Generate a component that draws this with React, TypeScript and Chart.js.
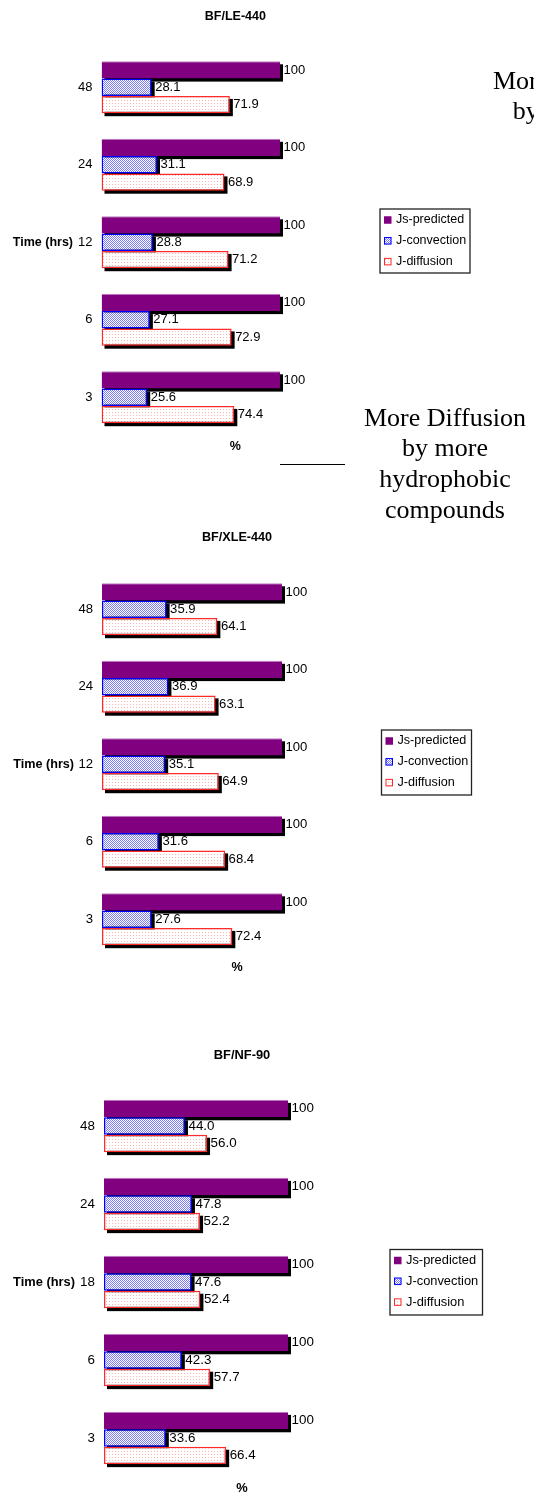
import React, { useEffect, useRef } from 'react';
import { Chart, registerables } from 'chart.js';

Chart.register(...registerables);

const FONT = '"Liberation Sans", Arial, Helvetica, sans-serif';
const SERIF = '"Liberation Serif", "Times New Roman", Times, serif';

const seriesNames = ['Js-predicted', 'J-convection', 'J-diffusion'];
const xAxisMax = 150;
const yAxisTitle = 'Time (hrs)';
const xAxisTitle = '%';

// Chart 1: BF/LE-440
const le440Title = 'BF/LE-440';
const le440Times = ['48', '24', '12', '6', '3'];
const le440Predicted = [100, 100, 100, 100, 100];
const le440Convection = [28.1, 31.1, 28.8, 27.1, 25.6];
const le440Diffusion = [71.9, 68.9, 71.2, 72.9, 74.4];

// Chart 2: BF/XLE-440
const xle440Title = 'BF/XLE-440';
const xle440Times = ['48', '24', '12', '6', '3'];
const xle440Predicted = [100, 100, 100, 100, 100];
const xle440Convection = [35.9, 36.9, 35.1, 31.6, 27.6];
const xle440Diffusion = [64.1, 63.1, 64.9, 68.4, 72.4];

// Chart 3: BF/NF-90
const nf90Title = 'BF/NF-90';
const nf90Times = ['48', '24', '18', '6', '3'];
const nf90Predicted = [100, 100, 100, 100, 100];
const nf90Convection = [44.0, 47.8, 47.6, 42.3, 33.6];
const nf90Diffusion = [56.0, 52.2, 52.4, 57.7, 66.4];

const noteLines = ['More Diffusion', 'by more', 'hydrophobic', 'compounds'];
const clippedNoteLines = ['More', 'by'];

function formatValue(v: number) {
  return v >= 100 ? String(v) : v.toFixed(1);
}

function makePattern(fg: string, bg: string, size: number, dots: [number, number][]) {
  const c = document.createElement('canvas');
  c.width = size;
  c.height = size;
  const g = c.getContext('2d')!;
  g.fillStyle = bg;
  g.fillRect(0, 0, size, size);
  g.fillStyle = fg;
  dots.forEach(([x, y]) => g.fillRect(x, y, 1, 1));
  return g.createPattern(c, 'repeat')!;
}

const shadowPlugin = {
  id: 'barShadow',
  beforeDatasetsDraw(chart: any, _args: any, o: any) {
    const ctx = chart.ctx;
    ctx.save();
    ctx.fillStyle = o.color;
    chart.data.datasets.forEach((_ds: any, i: number) => {
      const meta = chart.getDatasetMeta(i);
      meta.data.forEach((bar: any) => {
        const { x, y, base, height } = bar.getProps(['x', 'y', 'base', 'height'], true);
        const left = Math.min(x, base);
        const w = Math.abs(x - base);
        ctx.fillRect(left + o.dx, y - height / 2 + o.dy, w, height);
      });
    });
    ctx.restore();
  },
};

const valueLabelPlugin = {
  id: 'valueLabels',
  afterDatasetsDraw(chart: any, _args: any, o: any) {
    const ctx = chart.ctx;
    ctx.save();
    ctx.font = `${o.fontSize}px ${FONT}`;
    ctx.fillStyle = '#000';
    ctx.textBaseline = 'middle';
    ctx.textAlign = 'left';
    chart.data.datasets.forEach((ds: any, i: number) => {
      const meta = chart.getDatasetMeta(i);
      meta.data.forEach((bar: any, j: number) => {
        ctx.fillText(formatValue(ds.data[j]), bar.x + o.gap, bar.y);
      });
    });
    ctx.restore();
  },
};

const sideTitlePlugin = {
  id: 'sideTitle',
  afterDraw(chart: any, _args: any, o: any) {
    const ctx = chart.ctx;
    const yScale = chart.scales.y;
    const mid = Math.floor(chart.data.labels.length / 2);
    ctx.save();
    ctx.font = `bold ${o.fontSize}px ${FONT}`;
    ctx.fillStyle = '#000';
    ctx.textAlign = 'right';
    ctx.textBaseline = 'middle';
    ctx.fillText(o.text, o.right, yScale.getPixelForValue(mid));
    ctx.restore();
  },
};

const boxLegendPlugin = {
  id: 'boxLegend',
  afterDraw(chart: any, _args: any, o: any) {
    const ctx = chart.ctx;
    ctx.save();
    ctx.fillStyle = '#fff';
    ctx.fillRect(o.left, o.top, o.width, o.height);
    ctx.strokeStyle = '#222';
    ctx.lineWidth = 1.3;
    ctx.strokeRect(o.left, o.top, o.width, o.height);
    ctx.font = `${o.fontSize}px ${FONT}`;
    ctx.textBaseline = 'middle';
    ctx.textAlign = 'left';
    chart.data.datasets.forEach((ds: any, i: number) => {
      const cy = o.top + o.firstRow + i * o.rowGap;
      const m = o.marker;
      const mx = o.left + o.markerX;
      ctx.fillStyle = ds.backgroundColor;
      ctx.fillRect(mx, cy - m / 2, m, m);
      if (typeof ds.borderWidth === 'number') {
        ctx.strokeStyle = ds.borderColor;
        ctx.lineWidth = 1;
        ctx.strokeRect(mx + 0.5, cy - m / 2 + 0.5, m - 1, m - 1);
      }
      ctx.fillStyle = '#000';
      ctx.fillText(ds.label, o.left + o.textX, cy);
    });
    ctx.restore();
  },
};

type PanelCfg = {
  title: string;
  times: string[];
  predicted: number[];
  convection: number[];
  diffusion: number[];
  canvasTop: number;
  canvasHeight: number;
  areaLeft: number;
  areaRight: number;
  areaTop: number;
  areaBottom: number;
  titleY: number;
  pctY: number;
  timeRight: number;
  legendLeft: number;
  legendTop: number;
  legendWidth: number;
  legendHeight: number;
  fs: number;
};

const panels: PanelCfg[] = [
  {
    title: le440Title, times: le440Times, predicted: le440Predicted, convection: le440Convection, diffusion: le440Diffusion,
    canvasTop: 0, canvasHeight: 470, areaLeft: 101.5, areaRight: 369.25, areaTop: 48.5, areaBottom: 436,
    titleY: 17, pctY: 447, timeRight: 73, legendLeft: 380, legendTop: 209, legendWidth: 90, legendHeight: 64, fs: 1,
  },
  {
    title: xle440Title, times: xle440Times, predicted: xle440Predicted, convection: xle440Convection, diffusion: xle440Diffusion,
    canvasTop: 520, canvasHeight: 470, areaLeft: 102, areaRight: 372, areaTop: 570.5, areaBottom: 958,
    titleY: 538, pctY: 968, timeRight: 74, legendLeft: 381.5, legendTop: 730, legendWidth: 90, legendHeight: 65, fs: 1.01,
  },
  {
    title: nf90Title, times: nf90Times, predicted: nf90Predicted, convection: nf90Convection, diffusion: nf90Diffusion,
    canvasTop: 1030, canvasHeight: 467, areaLeft: 104, areaRight: 380, areaTop: 1087, areaBottom: 1477,
    titleY: 1055, pctY: 1488, timeRight: 75, legendLeft: 390, legendTop: 1249.5, legendWidth: 92.5, legendHeight: 65.5, fs: 1.03,
  },
];

function BarPanel({ cfg }: { cfg: PanelCfg }) {
  const ref = useRef<HTMLCanvasElement>(null);
  useEffect(() => {
    const blue = makePattern('#7a7aff', '#ffffff', 2, [[0, 0], [1, 1]]);
    const red = makePattern('#ffb4b4', '#ffffff', 3, [[1, 1]]);
    const top = cfg.canvasTop;
    const titleSize = 12.5 * cfg.fs;
    const titleLh = titleSize * 1.2;
    const pctLh = titleSize * 1.2;
    const pctPadTop = cfg.pctY - cfg.areaBottom - pctLh / 2;
    const bottomPad = cfg.canvasHeight - (cfg.areaBottom - top) - pctLh - pctPadTop;
    const chart = new Chart(ref.current!, {
      type: 'bar',
      data: {
        labels: cfg.times,
        datasets: [
          {
            label: seriesNames[0], data: cfg.predicted, backgroundColor: '#800080',
            borderColor: '#c080c0', borderWidth: { top: 1, left: 0, right: 0, bottom: 0 } as any, borderSkipped: false,
          },
          {
            label: seriesNames[1], data: cfg.convection, backgroundColor: blue as any,
            borderColor: '#0000ff', borderWidth: 1.5, borderSkipped: false,
          },
          {
            label: seriesNames[2], data: cfg.diffusion, backgroundColor: red as any,
            borderColor: '#ff2a2a', borderWidth: 1.5, borderSkipped: false,
          },
        ],
      },
      options: {
        indexAxis: 'y',
        animation: false,
        responsive: false,
        maintainAspectRatio: false,
        events: [],
        datasets: { bar: { categoryPercentage: 0.67, barPercentage: 1 } },
        layout: { padding: { left: 0, top: 0, right: 534 - cfg.areaRight, bottom: bottomPad } },
        scales: {
          x: {
            type: 'linear', min: 0, max: xAxisMax,
            grid: { display: false, drawTicks: false },
            border: { display: false },
            ticks: { display: false },
            title: {
              display: true, text: xAxisTitle, color: '#000',
              font: { family: FONT, size: titleSize, weight: 'bold' },
              padding: { top: pctPadTop, bottom: 0 },
            },
          },
          y: {
            type: 'category',
            grid: { display: false, drawTicks: false },
            border: { display: false },
            ticks: { color: '#000', padding: 9, font: { family: FONT, size: 13 * cfg.fs } },
            afterFit: (scale: any) => { scale.width = cfg.areaLeft; },
          },
        },
        plugins: {
          legend: { display: false },
          tooltip: { enabled: false },
          title: {
            display: true, text: cfg.title, color: '#000', fullSize: false,
            font: { family: FONT, size: titleSize, weight: 'bold' },
            padding: { top: cfg.titleY - top - titleLh / 2, bottom: cfg.areaTop - cfg.titleY - titleLh / 2 },
          },
          barShadow: { color: '#000', dx: 3, dy: 3 },
          valueLabels: { fontSize: 13 * cfg.fs, gap: 3.5 },
          sideTitle: { text: yAxisTitle, fontSize: 12.5 * cfg.fs, right: cfg.timeRight },
          boxLegend: {
            left: cfg.legendLeft, top: cfg.legendTop - top, width: cfg.legendWidth, height: cfg.legendHeight,
            firstRow: 11, rowGap: 20.8, marker: 7.5, markerX: 4, textX: 16, fontSize: 12.5 * cfg.fs,
          },
        } as any,
      },
      plugins: [shadowPlugin, valueLabelPlugin, sideTitlePlugin, boxLegendPlugin],
    } as any);
    return () => chart.destroy();
  }, [cfg]);
  return (
    <canvas
      ref={ref}
      width={534}
      height={cfg.canvasHeight}
      style={{ position: 'absolute', left: 0, top: cfg.canvasTop, width: 534, height: cfg.canvasHeight }}
    />
  );
}

export default function App() {
  return (
    <div style={{ position: 'absolute', left: 0, top: 0, width: 534, height: 1497, overflow: 'hidden', background: '#fff' }}>
      {panels.map((p) => (
        <BarPanel key={p.title} cfg={p} />
      ))}
      <div
        style={{
          position: 'absolute', left: 345, top: 402.5, width: 200, textAlign: 'center',
          fontFamily: SERIF, fontSize: 26, lineHeight: '30.7px', color: '#000', whiteSpace: 'nowrap',
        }}
      >
        {noteLines.map((l) => (
          <div key={l}>{l}</div>
        ))}
      </div>
      <div style={{ position: 'absolute', left: 493, top: 66.3, fontFamily: SERIF, fontSize: 26, lineHeight: '30.7px', whiteSpace: 'nowrap', color: '#000' }}>
        {clippedNoteLines[0]}
      </div>
      <div style={{ position: 'absolute', left: 512.7, top: 96.3, fontFamily: SERIF, fontSize: 26, lineHeight: '30.7px', whiteSpace: 'nowrap', color: '#000' }}>
        {clippedNoteLines[1]}
      </div>
      <div style={{ position: 'absolute', left: 280, top: 463.5, width: 65, height: 1.5, background: '#000' }} />
    </div>
  );
}
